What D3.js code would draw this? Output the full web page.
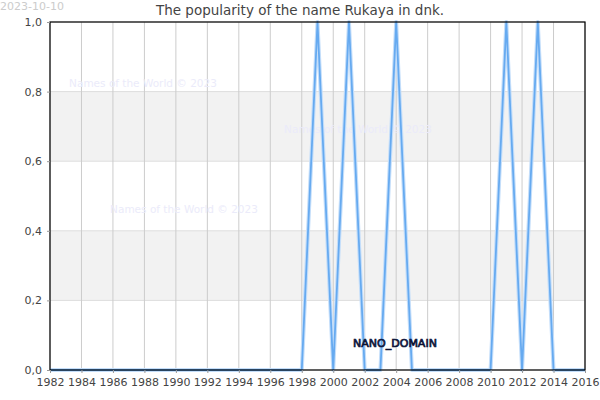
<!DOCTYPE html>
<html lang="en">
<head>
    <meta charset="UTF-8">
    <title>Rukaya in dnk</title>
    <script src="https://d3js.org/d3.v7.min.js"></script>
    <style>
        body { margin: 0; background: #fff; }
        svg text { font-family: "DejaVu Sans", sans-serif; }
    </style>
</head>
<body>
<script>
    // years and popularity values
    var years = d3.range(1982, 2017);
    var values = [0, 0, 0, 0, 0, 0, 0, 0, 0, 0, 0, 0, 0, 0, 0, 0, 0,
        1, 0, 1, 0, 0, 1, 0, 0, 0, 0, 0, 0, 1, 0, 1, 0, 0, 0];
    var xTicks = d3.range(1982, 2017, 2);
    var yTicks = [0, 0.2, 0.4, 0.6, 0.8, 1.0];
    var bands = [[0.2, 0.4], [0.6, 0.8]];
    var watermarks = [[143, 83], [358, 129], [184, 209]];

    var width = 600, height = 400;
    var margin = { top: 22, right: 15, bottom: 30, left: 50 };

    var svg = d3.select("body").append("svg")
        .attr("width", width)
        .attr("height", height);

    var x = d3.scaleLinear().domain([1982, 2016]).range([margin.left, width - margin.right]);
    var y = d3.scaleLinear().domain([0, 1]).range([height - margin.bottom, margin.top]);

    // alternating bands
    svg.selectAll("rect.band")
        .data(bands)
        .enter()
        .append("rect")
        .attr("x", x(1982))
        .attr("width", x(2016) - x(1982))
        .attr("y", function (d) { return y(d[1]); })
        .attr("height", function (d) { return y(d[0]) - y(d[1]); })
        .attr("fill", "#f2f2f2");

    // horizontal grid
    svg.selectAll("line.hgrid")
        .data(yTicks)
        .enter()
        .append("line")
        .attr("x1", x(1982))
        .attr("x2", x(2016))
        .attr("y1", function (d) { return y(d); })
        .attr("y2", function (d) { return y(d); })
        .attr("stroke", "#dddddd");

    // vertical grid
    svg.selectAll("line.vgrid")
        .data(xTicks)
        .enter()
        .append("line")
        .attr("x1", function (d) { return x(d); })
        .attr("x2", function (d) { return x(d); })
        .attr("y1", y(0))
        .attr("y2", y(1))
        .attr("stroke", "#cccccc");

    // watermarks
    svg.selectAll("text.wm")
        .data(watermarks)
        .enter()
        .append("text")
        .attr("x", function (d) { return d[0]; })
        .attr("y", function (d) { return d[1]; })
        .attr("dy", "0.35em")
        .attr("text-anchor", "middle")
        .attr("font-size", 10.5)
        .attr("fill", "#ebebfa")
        .text("Names of the World © 2023");

    // line with glow
    var line = d3.line()
        .x(function (d, i) { return x(years[i]); })
        .y(function (d) { return y(d); });

    svg.append("path")
        .datum(values)
        .attr("d", line)
        .attr("fill", "none")
        .attr("stroke", "#c4defa")
        .attr("stroke-width", 4)
        .attr("stroke-linejoin", "round");
    svg.append("path")
        .datum(values)
        .attr("d", line)
        .attr("fill", "none")
        .attr("stroke", "#66aaf0")
        .attr("stroke-width", 1.8)
        .attr("stroke-linejoin", "round");

    // plot frame
    svg.append("rect")
        .attr("x", x(1982))
        .attr("y", y(1))
        .attr("width", x(2016) - x(1982))
        .attr("height", y(0) - y(1))
        .attr("fill", "none")
        .attr("stroke", "#000")
        .attr("stroke-width", 1.2);

    // axes
    var xAxis = svg.append("g")
        .attr("transform", "translate(0," + y(0) + ")")
        .call(d3.axisBottom(x).tickValues(xTicks).tickFormat(d3.format("d")).tickSize(3));
    xAxis.select(".domain").remove();
    xAxis.selectAll("line").attr("stroke", "#999");
    xAxis.selectAll("text").attr("font-size", 11).attr("fill", "#444").attr("dy", "0.9em");

    var yAxis = svg.append("g")
        .attr("transform", "translate(" + x(1982) + ",0)")
        .call(d3.axisLeft(y).tickValues(yTicks)
            .tickFormat(function (d) { return d.toFixed(1).replace(".", ","); })
            .tickSize(3));
    yAxis.select(".domain").remove();
    yAxis.selectAll("line").attr("stroke", "#999");
    yAxis.selectAll("text").attr("font-size", 11).attr("fill", "#444").attr("x", -8);

    // title and date
    svg.append("text")
        .attr("x", 300)
        .attr("y", 15)
        .attr("text-anchor", "middle")
        .attr("font-size", 13.5)
        .attr("fill", "#444")
        .text("The popularity of the name Rukaya in dnk.");

    svg.append("text")
        .attr("x", 0)
        .attr("y", 10)
        .attr("font-size", 11)
        .attr("fill", "#cccccc")
        .text("2023-10-10");

    // domain label
    svg.append("text")
        .attr("x", 395)
        .attr("y", 347)
        .attr("text-anchor", "middle")
        .attr("font-size", 11)
        .attr("fill", "#1a2a6a")
        .attr("stroke", "#0a1030")
        .attr("stroke-width", 0.7)
        .text("NANO_DOMAIN");
</script>
</body>
</html>
